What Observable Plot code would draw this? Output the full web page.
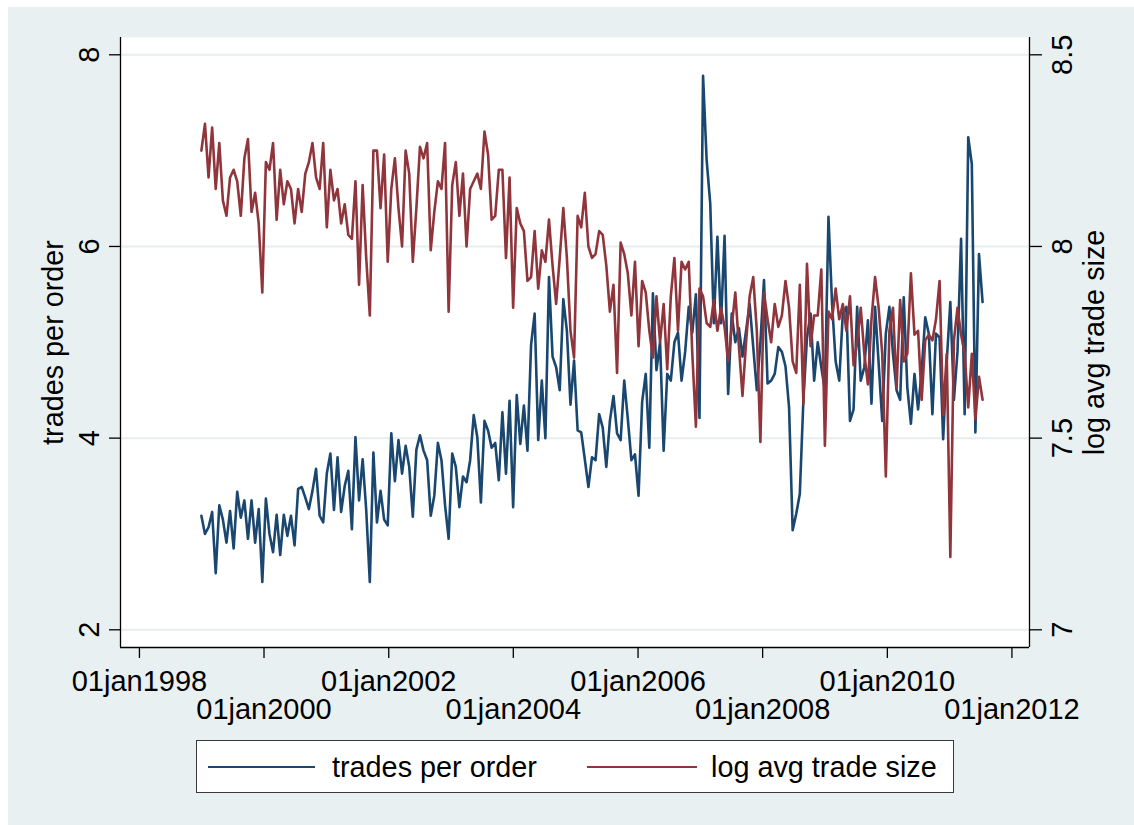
<!DOCTYPE html>
<html>
<head>
<meta charset="utf-8">
<script src="https://cdn.jsdelivr.net/npm/d3@7"></script>
<script src="https://cdn.jsdelivr.net/npm/@observablehq/plot@0.6"></script>
<style>
html, body { margin: 0; padding: 0; background: #ffffff; }
#wrap { position: relative; width: 1134px; height: 825px; overflow: hidden;
  font-family: "Liberation Sans", Arial, Helvetica, sans-serif; }
#panel { position: absolute; left: 8px; top: 7px; right: 0; bottom: 0; background: #e9f0f2; }
#chart { position: absolute; left: 0; top: 0; }
#legend { position: absolute; left: 196px; top: 740px; width: 758px; height: 53px; box-sizing: border-box;
  background: #ffffff; border: 1.5px solid #3a3a3a; }
.lg-line { position: absolute; height: 2.5px; }
.lg-text { position: absolute; font-size: 28.8px; line-height: 28.8px; color: #000; white-space: nowrap; }
</style>
</head>
<body>
<div id="wrap">
  <div id="panel"></div>
  <div id="chart"></div>
  <div id="legend"></div>
</div>
<script>
// ---- data (weekly series sampled every 3 weeks, first obs end of Dec 1998) ----
const seriesStart = "1998-12-30";
const stepDays = 21;

const tradesPerOrder = [
  3.19, 3.00, 3.07, 3.23, 2.59, 3.30, 3.15, 2.91, 3.24, 2.85,
  3.44, 3.17, 3.35, 2.95, 3.35, 2.91, 3.26, 2.50, 3.37, 3.00,
  2.81, 3.20, 2.78, 3.20, 2.98, 3.19, 2.88, 3.47, 3.49, 3.38,
  3.26, 3.45, 3.68, 3.19, 3.12, 3.63, 3.84, 3.25, 3.80, 3.23,
  3.50, 3.66, 3.05, 4.01, 3.35, 3.78, 3.25, 2.50, 3.85, 3.12,
  3.45, 3.15, 3.09, 4.05, 3.55, 3.98, 3.63, 3.92, 3.70, 3.18,
  3.88, 4.03, 3.87, 3.77, 3.19, 3.40, 3.95, 3.77, 3.30, 2.95,
  3.84, 3.70, 3.28, 3.60, 3.54, 3.77, 4.24, 4.01, 3.33, 4.18,
  4.08, 3.90, 3.95, 3.56, 4.27, 3.63, 4.39, 3.28, 4.45, 3.94,
  4.34, 3.87, 4.97, 5.30, 3.98, 4.60, 4.00, 5.68, 4.85, 4.74,
  4.50, 5.45, 5.12, 4.35, 4.81, 4.08, 4.06, 3.78, 3.49, 3.80,
  3.77, 4.25, 4.11, 3.70, 4.18, 4.44, 4.05, 3.98, 4.60, 4.20,
  3.77, 3.83, 3.40, 4.38, 4.67, 3.90, 5.51, 4.71, 5.00, 3.87,
  4.67, 4.60, 5.00, 5.10, 4.60, 4.90, 5.37, 5.10, 5.50, 4.21,
  7.78, 6.90, 6.45, 5.20, 6.10, 5.20, 6.11, 4.46, 5.30, 5.00,
  5.15, 4.85, 5.12, 5.40, 4.95, 4.50, 5.00, 5.65, 4.57, 4.60,
  4.67, 4.95, 4.90, 4.75, 4.32, 3.04, 3.21, 3.42, 4.40, 5.05,
  5.30, 4.60, 5.00, 4.74, 4.50, 6.31, 5.40, 4.80, 4.60, 5.30,
  5.37, 4.18, 4.30, 5.37, 4.60, 4.74, 5.23, 4.36, 5.37, 4.78,
  4.18, 5.09, 5.37, 4.88, 4.50, 4.40, 5.47, 4.53, 4.15, 4.67,
  4.30, 4.70, 5.26, 5.09, 4.25, 5.09, 5.05, 3.99, 4.80, 5.42,
  4.40, 4.90, 6.08, 4.25, 7.14, 6.86, 4.06, 5.92, 5.42
];

const logAvgTradeSize = [
  8.25, 8.32, 8.18, 8.31, 8.15, 8.27, 8.12, 8.08, 8.18, 8.20,
  8.17, 8.08, 8.23, 8.28, 8.09, 8.14, 8.06, 7.88, 8.22, 8.20,
  8.27, 8.07, 8.20, 8.11, 8.17, 8.15, 8.06, 8.15, 8.09, 8.19,
  8.22, 8.27, 8.18, 8.15, 8.27, 8.05, 8.20, 8.12, 8.15, 8.06,
  8.11, 8.03, 8.02, 8.17, 7.90, 8.16, 7.97, 7.82, 8.25, 8.25,
  8.10, 8.24, 7.96, 8.15, 8.23, 8.10, 8.00, 8.25, 8.19, 7.96,
  8.10, 8.26, 8.23, 8.27, 7.99, 8.09, 8.17, 8.15, 8.27, 7.83,
  8.16, 8.22, 8.08, 8.19, 8.00, 8.15, 8.17, 8.19, 8.15, 8.30,
  8.24, 8.07, 8.08, 8.20, 8.20, 7.97, 8.18, 7.84, 8.10, 8.06,
  8.04, 7.91, 7.92, 8.04, 7.89, 7.99, 7.96, 8.07, 7.95, 7.85,
  7.97, 8.10, 7.97, 7.78, 7.71, 8.08, 8.05, 8.14, 8.00, 7.97,
  7.98, 8.04, 8.03, 7.95, 7.83, 7.90, 7.67, 8.01, 7.98, 7.93,
  7.82, 7.96, 7.74, 7.91, 7.88, 7.78, 7.71, 7.87, 7.75, 7.85,
  7.68, 7.87, 7.97, 7.78, 7.96, 7.94, 7.96, 7.72, 7.53, 7.89,
  7.87, 7.80, 7.79, 7.86, 7.78, 7.84, 7.79, 7.70, 7.79, 7.88,
  7.74, 7.61, 7.75, 7.87, 7.92, 7.78, 7.49, 7.88, 7.81, 7.75,
  7.85, 7.79, 7.82, 7.91, 7.84, 7.70, 7.67, 7.90, 7.59, 7.955,
  7.74, 7.82, 7.82, 7.94, 7.48, 7.83, 7.81, 7.89, 7.81, 7.85,
  7.78, 7.87, 7.69, 7.75, 7.84, 7.72, 7.64, 7.81, 7.92, 7.84,
  7.72, 7.40, 7.78, 7.84, 7.63, 7.86, 7.70, 7.72, 7.93, 7.77,
  7.78, 7.60, 7.755, 7.77, 7.755, 7.81, 7.91, 7.56, 7.72, 7.19,
  7.755, 7.84, 7.77, 7.72, 7.58, 7.72, 7.55, 7.66, 7.60
];

const leftTicks = [2, 4, 6, 8];
const rightTicks = [7, 7.5, 8, 8.5];
const xTickYears = [1998, 2000, 2002, 2004, 2006, 2008, 2010, 2012];
const seriesNames = ["trades per order", "log avg trade size"];
const seriesColors = ["#1a476f", "#90353b"];

// ---- build table ----
const t0 = new Date(seriesStart + "T00:00:00Z").getTime();
const rows = tradesPerOrder.map((v, i) => ({
  date: new Date(t0 + i * stepDays * 86400000),
  tpo: v,
  lts: logAvgTradeSize[i]
}));

// right axis (log avg trade size) shares the plot's vertical range: 7 -> 2, 8.5 -> 8
const toLeft = v => 2 + (v - 7) * 4;
const fromLeft = y => 7 + (y - 2) / 4;

const xMin = new Date(Date.UTC(1997, 8, 12));
const xMax = new Date(Date.UTC(2012, 3, 13));
const yMin = 1.8153, yMax = 8.1805;

const yr = y => new Date(Date.UTC(y, 0, 1));
const row1 = xTickYears.filter((d, i) => i % 2 === 0).map(yr);
const row2 = xTickYears.filter((d, i) => i % 2 === 1).map(yr);
const fmtX = d => "01jan" + d.getUTCFullYear();

const FONT = "'Liberation Sans', Arial, Helvetica, sans-serif";
const tickFs = 29;
const titleFs = 28.8;

const chart = Plot.plot({
  width: 1134,
  height: 730,
  marginLeft: 120,
  marginRight: 105,
  marginTop: 37,
  marginBottom: 83,
  style: { background: "transparent", fontFamily: FONT, color: "#000", overflow: "visible" },
  x: { type: "utc", domain: [xMin, xMax] },
  y: { domain: [yMin, yMax] },
  marks: [
    Plot.frame({ fill: "#ffffff", stroke: null }),
    Plot.ruleY(leftTicks, { stroke: "#e6eef0", strokeWidth: 2 }),
    Plot.lineY(rows, { x: "date", y: "tpo", stroke: seriesColors[0], strokeWidth: 2.6 }),
    Plot.lineY(rows, { x: "date", y: d => toLeft(d.lts), stroke: seriesColors[1], strokeWidth: 2.6 }),
    Plot.ruleX([xMin], { stroke: "#000", strokeWidth: 1.3 }),
    Plot.ruleX([xMax], { stroke: "#000", strokeWidth: 1.3 }),
    Plot.ruleY([yMin], { stroke: "#000", strokeWidth: 1.3 }),
    Plot.axisY({ anchor: "left", ticks: leftTicks, tickSize: 11, tickPadding: 11, tickRotate: -90,
      fontSize: tickFs, label: null, tickFormat: d => String(d), strokeWidth: 1.3 }),
    Plot.axisY({ anchor: "right", ticks: rightTicks.map(toLeft), tickSize: 12, tickPadding: 10, tickRotate: -90,
      lineAnchor: "top", fontSize: tickFs, label: null, tickFormat: d => String(fromLeft(d)), strokeWidth: 1.3 }),
    Plot.axisX({ ticks: row1, tickSize: 11, tickPadding: 11.5, fontSize: tickFs, label: null,
      tickFormat: fmtX, strokeWidth: 1.3 }),
    Plot.axisX({ ticks: row2, tickSize: 11, tickPadding: 40, fontSize: tickFs, label: null,
      tickFormat: fmtX, strokeWidth: 1.3 }),
    Plot.text([seriesNames[0]], { frameAnchor: "left", dx: -58, rotate: -90, lineAnchor: "bottom",
      textAnchor: "middle", fontSize: titleFs, fill: "#000" }),
    Plot.text([seriesNames[1]], { frameAnchor: "right", dx: 74, rotate: -90, lineAnchor: "bottom",
      textAnchor: "middle", fontSize: titleFs, fill: "#000" })
  ]
});
document.getElementById("chart").appendChild(chart);

// ---- legend (below the plot, inside the graph region) ----
const legend = document.getElementById("legend");
const items = [
  { name: seriesNames[0], color: seriesColors[0], lx: 11, lw: 107, tx: 135 },
  { name: seriesNames[1], color: seriesColors[1], lx: 390, lw: 110, tx: 514 }
];
items.forEach(it => {
  const ln = document.createElement("div");
  ln.className = "lg-line";
  ln.style.left = it.lx + "px";
  ln.style.top = "24.5px";
  ln.style.width = it.lw + "px";
  ln.style.background = it.color;
  legend.appendChild(ln);
  const tx = document.createElement("div");
  tx.className = "lg-text";
  tx.style.left = it.tx + "px";
  tx.style.top = "11.5px";
  tx.textContent = it.name;
  legend.appendChild(tx);
});
</script>
</body>
</html>
